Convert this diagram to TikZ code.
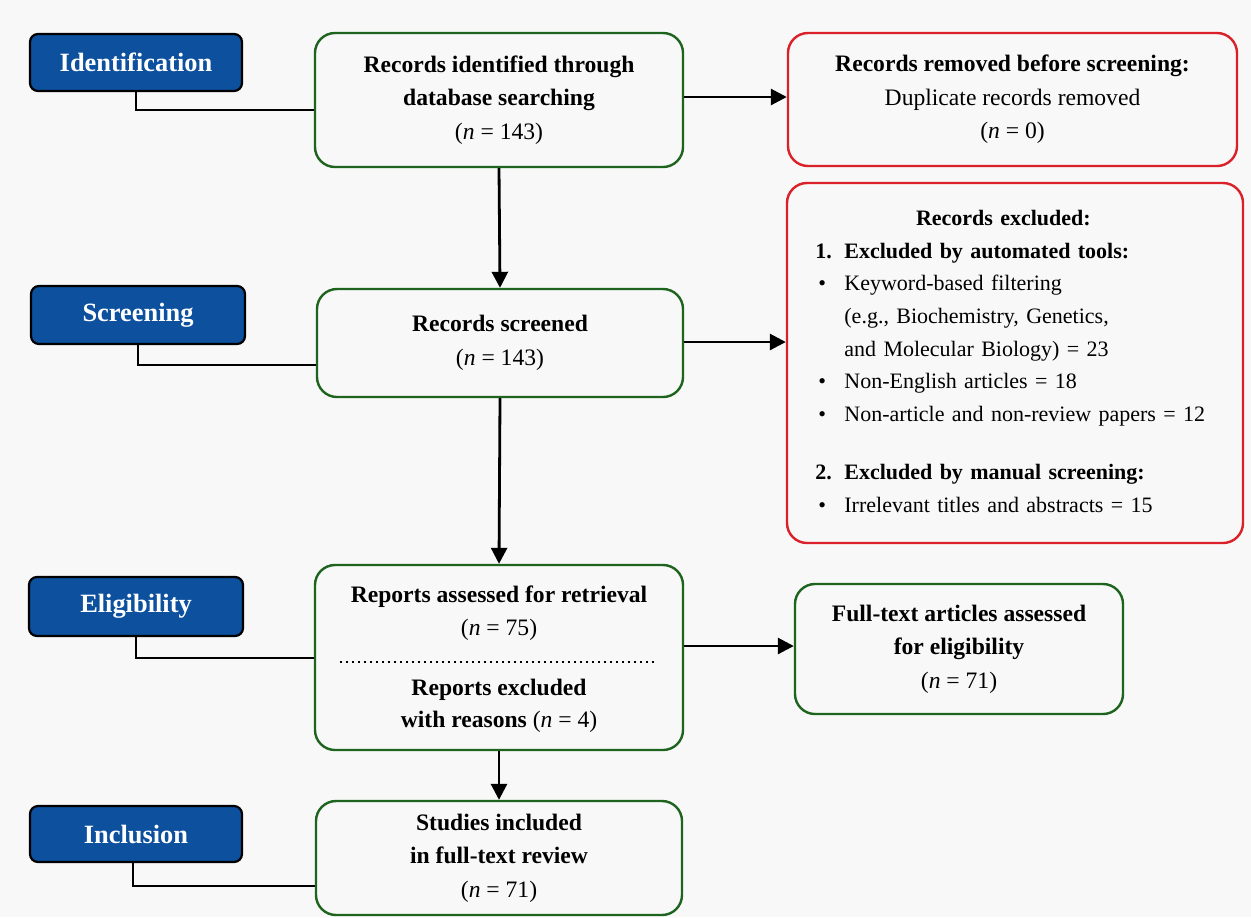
\documentclass[tikz,border=0pt]{standalone}
\usepackage{fontspec}
\setmainfont{Liberation Serif}
\usetikzlibrary{arrows.meta}
\definecolor{bg}{RGB}{248,248,248}
\definecolor{phaseblue}{RGB}{12,80,158}
\definecolor{boxgreen}{RGB}{30,100,30}
\definecolor{boxred}{RGB}{218,32,40}
\newcommand{\nval}[1]{(\textit{n} = #1)}
\begin{document}
\begin{tikzpicture}[x=0.5pt,y=-0.5pt,
  phase/.style={draw=black, line width=1.1pt, fill=phaseblue, rounded corners=4pt,
    text=white, font=\fontsize{13.2}{15}\selectfont\bfseries, inner sep=0pt},
  gbox/.style={draw=boxgreen, line width=1.2pt, fill=bg, rounded corners=10pt,
    align=center, font=\fontsize{11.8}{16.7}\selectfont, inner sep=0pt},
  rbox/.style={draw=boxred, line width=1.2pt, fill=bg, rounded corners=10pt,
    align=center, font=\fontsize{11.8}{16.7}\selectfont, inner sep=0pt},
  plain/.style={align=center, font=\fontsize{11.8}{16.3}\selectfont, inner sep=0pt},
  link/.style={draw=black, line width=1.4pt},
  arr/.style={link, -{Triangle[length=8pt,width=8pt]}},
]
\path[fill=bg] (0,0) rectangle (1251,917);
\useasboundingbox (0,0) rectangle (1251,917);

% phase labels
\node[phase, minimum width=106pt, minimum height=28.5pt] (ident) at (136,62.5) {Identification};
\node[phase, minimum width=107pt, minimum height=29pt] (screen) at (138,315) {Screening};
\node[phase, minimum width=107pt, minimum height=29.5pt] (elig) at (136,606.5) {Eligibility};
\node[phase, minimum width=106pt, minimum height=28pt] (incl) at (136,834) {Inclusion};

% main boxes
\node[gbox, minimum width=184pt, minimum height=67pt] (g1) at (499,100)
  {\textbf{Records identified through}\\\textbf{database searching}\\\nval{143}};
\node[gbox, minimum width=183pt, minimum height=54pt] (g2) at (500,343)
  {\textbf{Records screened}\\\nval{143}};
\node[gbox, minimum width=184pt, minimum height=92.5pt] (g3) at (499,657.5) {};
\node[plain] (g3a) at (499,613) {\textbf{Reports assessed for retrieval}\\\nval{75}};
\node[plain] (g3b) at (499,706) {\textbf{Reports excluded}\\\textbf{with reasons} \nval{4}};
\coordinate (d1) at (340,662);
\coordinate (d2) at (657,662);
\draw[line width=0.9pt, dash pattern=on 0.9pt off 2.1pt] (d1) -- (d2);
\node[gbox, minimum width=164pt, minimum height=65pt] (g4) at (959,649)
  {\textbf{Full-text articles assessed}\\\textbf{for eligibility}\\\nval{71}};
\node[gbox, minimum width=183pt, minimum height=57pt] (g5) at (499,858)
  {\textbf{Studies included}\\\textbf{in full-text review}\\\nval{71}};

% red boxes
\node[rbox, minimum width=224.5pt, minimum height=66.5pt] (r1) at (1012.5,99.5)
  {\textbf{Records removed before screening:}\\Duplicate records removed\\\nval{0}};
\node[rbox, minimum width=228pt, minimum height=180pt] (r2) at (1015,363) {};
\node[anchor=north west, inner sep=0pt, text width=200pt, align=left,
  font=\fontsize{11}{16.3}\selectfont] (r2txt) at (815,210) {%
\makebox[188pt]{\textbf{Records excluded:}}\\
\makebox[14.5pt][l]{\textbf{1.}}\textbf{Excluded by automated tools:}\\
\makebox[14.5pt][l]{\hspace{1.5pt}\textbullet}Keyword-based filtering\\
\hspace*{14.5pt}(e.g., Biochemistry, Genetics,\\
\hspace*{14.5pt}and Molecular Biology) = 23\\
\makebox[14.5pt][l]{\hspace{1.5pt}\textbullet}Non-English articles = 18\\
\makebox[14.5pt][l]{\hspace{1.5pt}\textbullet}Non-article and non-review papers = 12\\[13pt]
\makebox[14.5pt][l]{\textbf{2.}}\textbf{Excluded by manual screening:}\\
\makebox[14.5pt][l]{\hspace{1.5pt}\textbullet}Irrelevant titles and abstracts = 15};

% phase connectors
\coordinate (c1) at (0,110);
\coordinate (c2) at (0,365);
\coordinate (c3) at (0,658);
\coordinate (c4) at (0,886);
\draw[link] (ident.south) |- (g1.west |- c1);
\draw[link] (screen.south) |- (g2.west |- c2);
\draw[link] (elig.south) |- (g3.west |- c3);
\draw[link] ([xshift=-1.5pt]incl.south) |- (g5.west |- c4);

% flow arrows
\draw[arr] (g1.south) -- (g2.north);
\draw[arr] (g2.south) -- (g3.north);
\draw[arr] (g3.south) -- (g5.north);
\coordinate (a1) at (0,97);
\coordinate (a2) at (0,342);
\coordinate (a3) at (0,646);
\draw[arr] (g1.east |- a1) -- (r1.west |- a1);
\draw[arr] (g2.east |- a2) -- (r2.west |- a2);
\draw[arr] (g3.east |- a3) -- (g4.west |- a3);
\end{tikzpicture}
\end{document}
